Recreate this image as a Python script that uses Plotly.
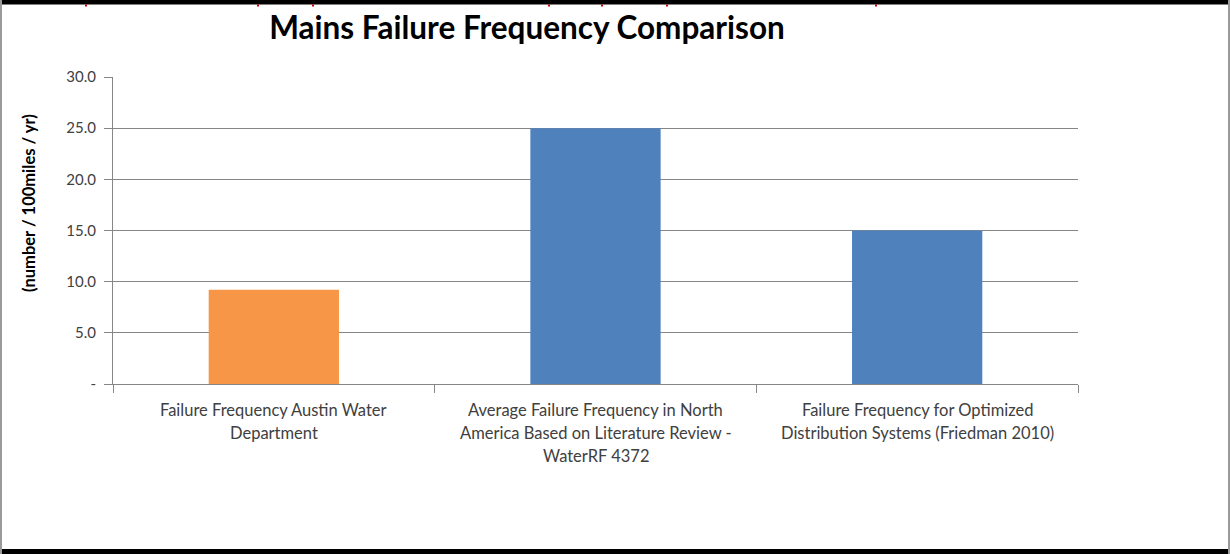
import plotly.graph_objects as go

# ---- data ----
categories = [
    "Failure Frequency Austin Water Department",
    "Average Failure Frequency in North America Based on Literature Review - WaterRF 4372",
    "Failure Frequency for Optimized Distribution Systems (Friedman 2010)",
]
label_lines = [
    ["Failure Frequency Austin Water", "Department"],
    ["Average Failure Frequency in North", "America Based on Literature Review -", "WaterRF 4372"],
    ["Failure Frequency for Optimized", "Distribution Systems (Friedman 2010)"],
]
values = [9.2, 25.0, 15.0]
bar_colors = ["#F79646", "#4F81BD", "#4F81BD"]
y_tickvals = [0, 5, 10, 15, 20, 25, 30]
y_ticktext = ["-", "5.0", "10.0", "15.0", "20.0", "25.0", "30.0"]
title_text = "Mains Failure Frequency Comparison"
y_title = "(number / 100miles / yr)"

# ---- layout geometry (pixels) ----
W, H = 1230, 554
L, R, T, B = 113, 152, 77, 170
PW, PH = W - L - R, H - T - B

def px(x):
    return (x - L) / PW

def py(y):
    return (H - B - y) / PH

FONT = "Lato, Carlito, Calibri, sans-serif"

fig = go.Figure(
    go.Bar(
        x=categories,
        y=values,
        marker=dict(color=bar_colors, line=dict(width=0)),
        width=0.405,
        hoverinfo="x+y",
    )
)

annotations = []
for cat, lines in zip(categories, label_lines):
    for i, line in enumerate(lines):
        annotations.append(dict(
            x=cat, y=0, xref="x", yref="y", text=line, showarrow=False,
            yshift=-(26 + 23 * i), yanchor="middle",
            font=dict(family=FONT, size=16.5, color="#404040"),
        ))
annotations.append(dict(
    x=px(29), y=py(203), xref="paper", yref="paper", text=f"<b>{y_title}</b>",
    showarrow=False, textangle=-90, xanchor="center", yanchor="middle",
    font=dict(family=FONT, size=16.5, color="#000000"),
))

shapes = [
    dict(type="rect", xref="paper", yref="paper", x0=px(0), x1=px(W), y0=py(0), y1=py(4.5),
         fillcolor="#000000", line=dict(width=0), layer="above"),
    dict(type="rect", xref="paper", yref="paper", x0=px(0), x1=px(W), y0=py(549), y1=py(554),
         fillcolor="#000000", line=dict(width=0), layer="above"),
    dict(type="rect", xref="paper", yref="paper", x0=px(0), x1=px(2), y0=py(0), y1=py(554),
         fillcolor="#9a9a9a", line=dict(width=0), layer="above"),
    dict(type="rect", xref="paper", yref="paper", x0=px(1228), x1=px(1230), y0=py(0), y1=py(554),
         fillcolor="#9a9a9a", line=dict(width=0), layer="above"),
]
for mx in [86, 258, 313, 549, 602, 667, 876]:
    shapes.append(dict(type="rect", xref="paper", yref="paper", x0=px(mx - 1), x1=px(mx + 1),
                       y0=py(4.5), y1=py(6.5), fillcolor="#d00000", line=dict(width=0), layer="above"))

fig.update_layout(
    width=W, height=H,
    margin=dict(l=L, r=R, t=T, b=B, pad=0),
    paper_bgcolor="white", plot_bgcolor="white",
    showlegend=False,
    font=dict(family=FONT, color="#404040"),
    title=dict(
        text=f"<b>{title_text}</b>", x=px(527), xref="paper", xanchor="center",
        y=1 - 28 / H, yref="container", yanchor="middle",
        font=dict(family=FONT, size=31.5, color="#000000"),
    ),
    xaxis=dict(
        type="category", showticklabels=False, tickson="boundaries",
        ticks="outside", ticklen=8, tickcolor="#868686", tickwidth=1,
        showline=True, linecolor="#868686", linewidth=1, showgrid=False,
        zeroline=False,
    ),
    yaxis=dict(
        range=[0, 30], tickvals=y_tickvals, ticktext=y_ticktext,
        ticks="outside", ticklen=8, tickcolor="#868686", tickwidth=1,
        ticklabelstandoff=5,
        showline=True, linecolor="#868686", linewidth=1,
        showgrid=True, gridcolor="#868686", gridwidth=1, zeroline=False,
        tickfont=dict(family=FONT, size=15, color="#404040"),
    ),
    annotations=annotations,
    shapes=shapes,
)

fig.write_html(
    "out.html",
    config={"displayModeBar": False},
    post_script="document.body.style.margin='0';document.body.style.overflow='hidden';",
)
